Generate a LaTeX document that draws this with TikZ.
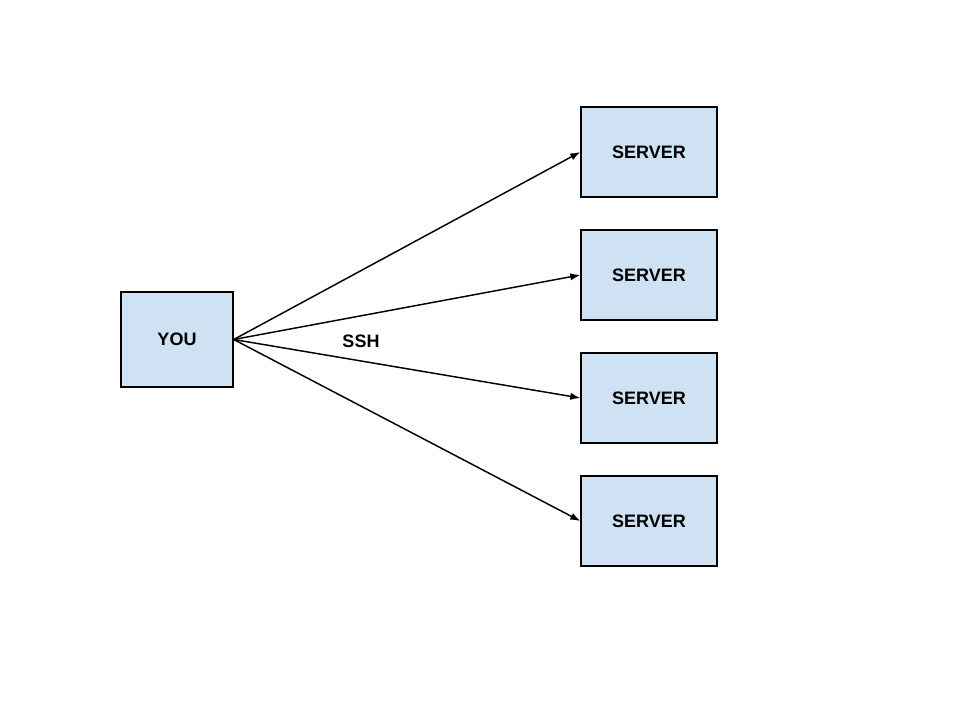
\documentclass[tikz,border=0pt]{standalone}
\usepackage{fontspec}
\setmainfont{Liberation Sans}
\usetikzlibrary{arrows.meta, positioning}
\definecolor{boxblue}{HTML}{CFE2F3}

\tikzset{
  hostbox/.style={draw, fill=boxblue, line width=1.1pt, inner sep=0pt,
    font=\fontsize{13.5}{16}\selectfont\bfseries},
}

\begin{document}
\begin{tikzpicture}[x=0.75pt, y=0.75pt, >={Latex[length=7.5pt,width=5.5pt]}]
  \useasboundingbox (0,0) rectangle (960,720);
  \node (you) [hostbox, minimum width=84pt, minimum height=71.25pt] at (177,380.5) {YOU};
  \foreach \i/\y in {1/568, 2/445, 3/322, 4/199} {
    \node (s\i) [hostbox, minimum width=102pt, minimum height=67.5pt] at (649,\y) {SERVER};
    \draw [line width=1.1pt, ->] (you.east) -- (s\i.west);
  }
  \node (ssh) at (361,379) [font=\fontsize{13.5}{16}\selectfont\bfseries] {SSH};
\end{tikzpicture}
\end{document}
